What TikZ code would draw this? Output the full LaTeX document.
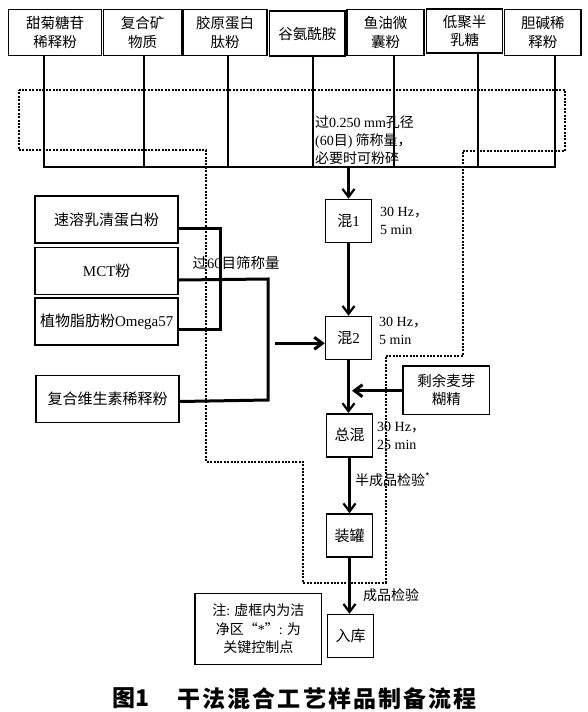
\documentclass[tikz,border=0pt]{standalone}
\usepackage{fontspec}
\setmainfont{Noto Sans CJK SC}
\newfontfamily\lat{Liberation Serif}
\newfontfamily\capfont{Noto Sans CJK SC}[LetterSpace=9]
\usetikzlibrary{arrows.meta}
\begin{document}
\begin{tikzpicture}[x=1pt,y=-1pt,
  box/.style={draw, line width=1.5pt, inner sep=1pt, align=center, font=\fontsize{14.5}{18.3}\selectfont},
  topbox/.style={box, minimum height=46pt},
  leftbox/.style={box, minimum width=143pt, minimum height=47pt, font=\fontsize{15}{18}\selectfont},
  mixbox/.style={box, minimum width=46pt, minimum height=43pt, font=\fontsize{15}{18}\selectfont},
  lbl/.style={inner sep=0pt, align=left, anchor=west, font=\fontsize{14}{18}\selectfont},
  thin/.style={line width=1.5pt},
  comb/.style={line width=2.2pt},
  brk/.style={line width=3pt},
  arr/.style={line width=2.2pt, -{Straight Barb[length=8pt,width=12pt,line width=2.2pt]}},
  bigarr/.style={line width=3.5pt, -{Straight Barb[length=8pt,width=12pt,line width=3pt]}},
  clean/.style={line width=2pt, dash pattern=on 2pt off 1.4pt},
]
\path[use as bounding box] (0,0) rectangle (588,712);

% top raw materials
\node[topbox, minimum width=93pt] (b1) at (55,32.5) {甜菊糖苷\\稀释粉};
\node[topbox, minimum width=78.6pt] (b2) at (142.7,32.5) {复合矿\\物质};
\node[topbox, minimum width=83.2pt] (b3) at (225.2,32.5) {胶原蛋白\\肽粉};
\node[topbox, minimum width=75.7pt, minimum height=45pt] (b4) at (307.3,33.5) {谷氨酰胺};
\node[topbox, minimum width=77pt] (b5) at (385.5,32.5) {鱼油微\\囊粉};
\node[topbox, minimum width=76.1pt, minimum height=44pt] (b6) at (464.6,31) {低聚半\\乳糖};
\node[topbox, minimum width=76.5pt] (b7) at (542.8,32.5) {胆碱稀\\释粉};

% clean zone (dotted)
\draw[clean] (18.5,90) -- (565,90) -- (565,150.7) -- (463,150.7) -- (463,355.7)
  -- (385.5,355.7) -- (385.5,582.7) -- (303,582.7) -- (303,461.7) -- (206,461.7)
  -- (206,150) -- (18.5,150) -- cycle;

% comb of feed lines
\coordinate (j) at (348.5,166.7);
\draw[thin] (b1.south -| 44,0) -- (44,166.7);
\draw[thin] (b2.south -| 144,0) -- (144,166.7);
\draw[thin] (b3.south -| 228,0) -- (228,166.7);
\draw[thin] (b4.south -| 313,0) -- (313,166.7);
\draw[thin] (b5.south -| 394,0) -- (394,166.7);
\draw[thin] (b6.south -| 478,0) -- (478,166.7);
\draw[thin] (b7.south -| 555,0) -- (555,166.7);
\draw[comb] (43,166.7) -- (556,166.7);

\node[lbl] (t1) at (315,140) {过{\lat 0.250 mm}孔径\\{\lat (60}目{\lat )} 筛称量，\\必要时可粉碎};

% mixing chain
\node[mixbox] (m1) at (348.5,221) {混{\lat 1}};
\node[mixbox] (m2) at (348.5,338) {混{\lat 2}};
\node[mixbox] (m3) at (349.5,435.3) {总混};
\node[mixbox] (m4) at (349.5,535.5) {装罐};
\node[mixbox] (m5) at (350.5,636) {入库};

\draw[arr] (j) -- (m1.north);
\draw[arr] (m1) -- (m2);
\draw[arr] (m2.south) -- (m2.south |- m3.north);
\draw[arr] (m3) -- (m4);
\draw[arr] (m4) -- (m4 |- m5.north);

\node[lbl] (p1) at (380,220.5) {{\lat 30 Hz}，\\{\lat 5 min}};
\node[lbl] (p2) at (379,330.5) {{\lat 30 Hz}，\\{\lat 5 min}};
\node[lbl] (p3) at (377,436) {{\lat 30 Hz}，\\{\lat 25 min}};
\node[lbl] (q1) at (355,480) {半成品检验\textsuperscript{*}};
\node[lbl] (q2) at (363,595) {成品检验};

% left feed boxes
\node[leftbox] (s1) at (106.7,219.7) {速溶乳清蛋白粉};
\node[leftbox] (s2) at (106.7,270.8) {{\lat MCT}粉};
\node[leftbox] (s3) at (106.7,321.7) {植物脂肪粉{\lat Omega57}};
\node[leftbox] (s4) at (107.5,399.2) {复合维生素稀释粉};

\draw[brk] (s1.east |- 0,228) -- (220,228) -- (220,329.5) -- (s3.east |- 0,329.5);
\draw[brk] (s2.east |- 0,280) -- (268,279) -- (268,400) -- (s4.east |- 0,401.5);
\node[lbl, font=\fontsize{14.5}{18}\selectfont] (t2) at (192.5,263.3) {过{\lat 60}目筛称量};
\coordinate (k) at (275,343.3);
\draw[bigarr] (k) -- (m2.west |- k);

% remaining maltodextrin
\node[box, minimum width=86.6pt, minimum height=48.3pt] (mal) at (446.3,390.2) {剩余麦芽\\糊精};
\coordinate (e) at (352,390.7);
\draw[bigarr, line width=3pt] (mal.west |- e) -- (e);

% note
\node[box, minimum width=126.7pt, minimum height=71pt, font=\fontsize{14}{18.3}\selectfont] (note) at (258.3,628.8) {注{\lat :} 虚框内为洁\\净区“{\lat *}”{\lat :} 为\\关键控制点};

% caption
\node[inner sep=0pt, anchor=west, font=\fontsize{23}{26}\selectfont\bfseries] (c1) at (112,698.3) {图{\lat\bfseries}1};
\node[inner sep=0pt, anchor=west, font=\capfont\fontsize{23}{26}\selectfont\bfseries] (c2) at (177.5,698.3) {干法混合工艺样品制备流程};
\end{tikzpicture}
\end{document}
